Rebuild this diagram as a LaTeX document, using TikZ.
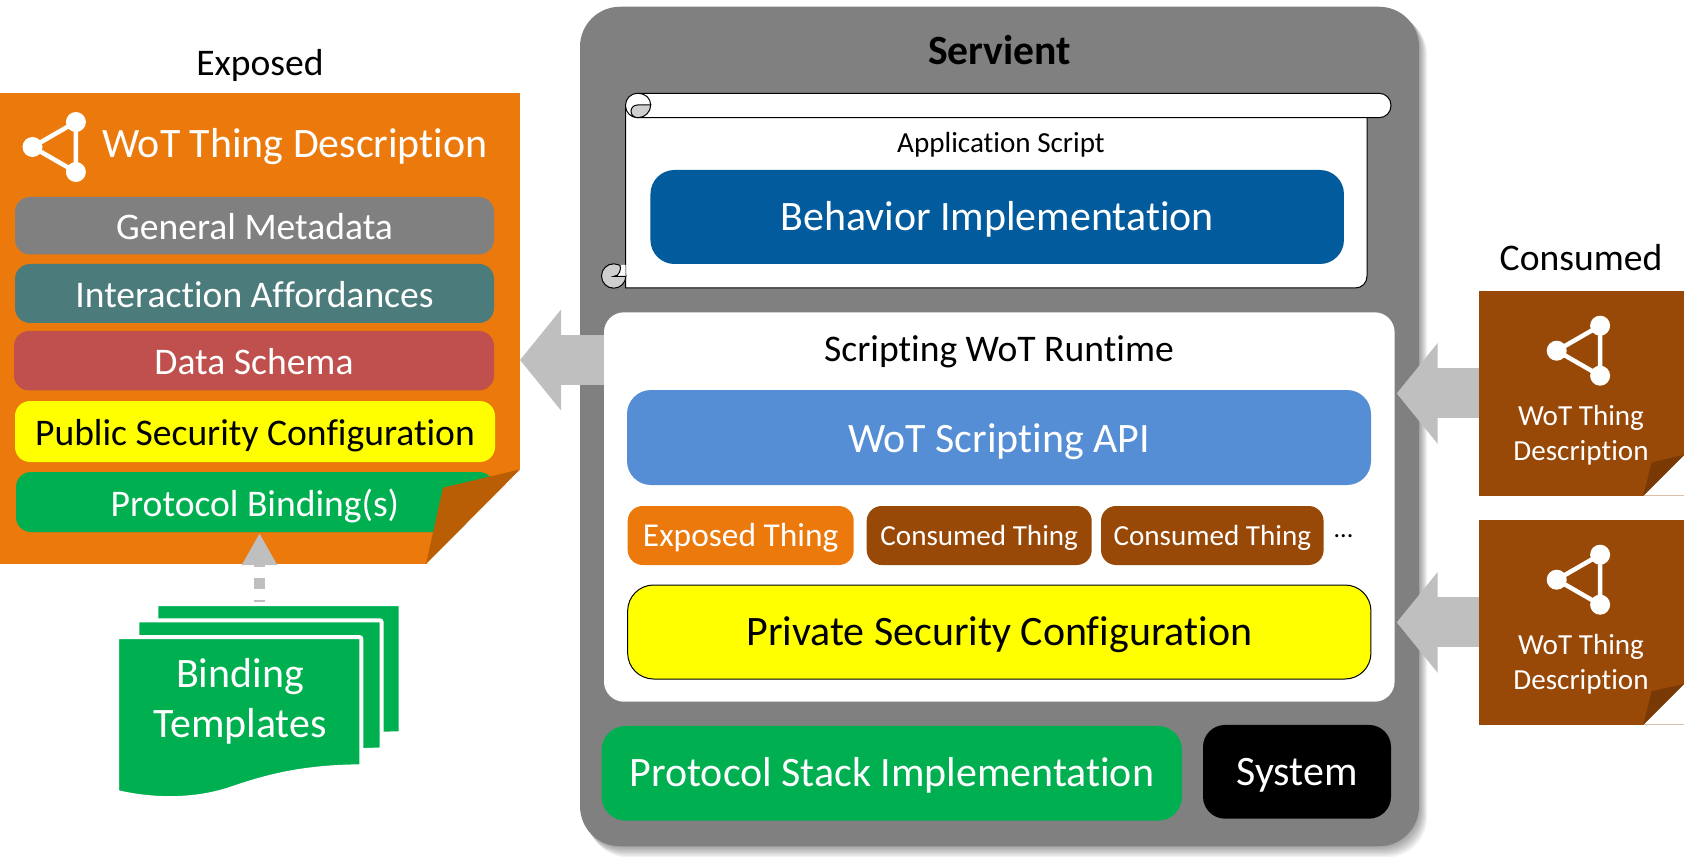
\documentclass[tikz,border=0pt]{standalone}
\usepackage{fontspec}
\setmainfont{Carlito}[Ligatures=NoCommon]
\usepackage{tikz}
\usetikzlibrary{positioning,arrows.meta,calc}
\definecolor{wotorange}{HTML}{EB790B}
\definecolor{foldorange}{HTML}{BA5E05}
\definecolor{wotbrown}{HTML}{984807}
\definecolor{foldbrown}{HTML}{793905}
\definecolor{wotgrey}{HTML}{808080}
\definecolor{wotteal}{HTML}{4B7B7B}
\definecolor{wotred}{HTML}{C0504D}
\definecolor{wotgreen}{HTML}{00B050}
\definecolor{wotblue}{HTML}{025B9C}
\definecolor{wotsky}{HTML}{558ED5}
\definecolor{wotyellow}{HTML}{FFFF00}
\definecolor{flowgrey}{HTML}{BFBFBF}
\definecolor{curlgrey}{HTML}{CFCFCF}
\tikzset{
  smalltxt/.style={font=\fontsize{29.1}{35.5}\selectfont, text height=19.7pt, text depth=0pt},
  midtxt/.style={font=\fontsize{37.6}{45}\selectfont, text height=28pt, text depth=0pt},
  bigtxt/.style={font=\fontsize{41.9}{50.5}\selectfont, text height=27pt, text depth=0pt},
  bar/.style={rectangle, rounded corners=15pt, inner sep=0pt, text=white},
  widebar/.style={bar, rounded corners=24pt},
  flow/.style={flowgrey, line width=50pt, -{Triangle[length=41pt,width=98.7pt]}},
  iconlink/.style={white, line width=4.5pt},
}
% the three-dot thing description mark, given by its left dot
\newcommand{\tdmark}[2]{
  \draw[iconlink] (#1,#2) -- (#1+43.4,#2-25) -- (#1+43.4,#2+25) -- cycle;
  \fill[white] (#1,#2) circle (10pt) (#1+43.4,#2-25) circle (10pt) (#1+43.4,#2+25) circle (10pt);
}
\begin{document}
\begin{tikzpicture}[x=1pt,y=-1pt]
  \useasboundingbox (0,0) rectangle (1686,863.3);

  % Servient with its soft shadow
  \foreach \s in {1,...,8}
    \fill[black, opacity=.05, rounded corners=40pt]
      ({580+\s},{7+\s}) rectangle ({1419+\s},{846+1.4*\s});
  \node[bar, rounded corners=40pt, fill=wotgrey, minimum width=839pt, minimum height=839.5pt]
    (servient) at (999.5,426.5) {};
  \node[bigtxt, font=\fontsize{41.6}{50}\bfseries] (servienttitle) at (999.5,51) {Servient};

  % Application script scroll
  \draw[fill=white, line width=1pt] (625.5,105) -- (625.5,288) -- (1355,288)
    .. controls (1362,288) and (1367,283) .. (1367,276) -- (1367,105) -- cycle;
  \draw[fill=curlgrey, line width=1pt] (613.7,276) circle (12.2pt);
  \fill[white] (620,265) .. controls (621.5,269) and (619.5,276.5) .. (613.5,276.5)
    -- (625.5,276.5) -- (625.5,265) -- cycle;
  \draw[line width=1pt] (620,265) .. controls (621.5,269) and (619.5,276.5) .. (613.5,276.5)
    -- (625.5,276.5);
  \draw[fill=white, line width=1pt, rounded corners=12pt] (625.5,93.3) rectangle (1391,117.7);
  \draw[fill=curlgrey, line width=1pt] (650.7,105) -- (637.5,105)
    .. controls (633.5,105) and (631,108) .. (631,111.3)
    .. controls (631,115) and (634,117.7) .. (638,117.7)
    .. controls (645,117.7) and (650.7,112) .. (650.7,105) -- cycle;
  \draw[line width=1pt] (638,93.3) .. controls (645,93.3) and (650.7,98) .. (650.7,105);
  \node[smalltxt] (script) at (1001,143) {Application Script};
  \node[widebar, bigtxt, fill=wotblue, minimum width=693.5pt, minimum height=94pt]
    (behavior) at (997.2,217) {Behavior Implementation};

  % Scripting runtime
  \node[bar, rounded corners=20pt, fill=white, minimum width=790.6pt, minimum height=389.4pt]
    (runtime) at (999.3,507) {};
  \node[midtxt] (runtimetitle) at (999,347.5) {Scripting WoT Runtime};
  \node[widebar, bigtxt, text height=30pt, fill=wotsky, minimum width=744pt, minimum height=95pt]
    (api) at (999,437.5) {WoT Scripting API};
  \node[bar, font=\fontsize{33.4}{40}\selectfont, text height=21.3pt, text depth=0pt, fill=wotorange,
    minimum width=226pt, minimum height=59pt] (exposedthing) at (740.7,535.5) {Exposed Thing};
  \node[bar, smalltxt, fill=wotbrown, minimum width=225pt, minimum height=59pt]
    (consumedone) at (979.2,535.5) {Consumed Thing};
  \node[bar, smalltxt, fill=wotbrown, minimum width=222.6pt, minimum height=59pt]
    (consumedtwo) at (1212.3,535.5) {Consumed Thing};
  \node[font=\fontsize{26}{30}\selectfont, inner sep=0pt] (moredots) at (1343.5,536.5) {...};
  \node[widebar, bigtxt, rounded corners=26pt, text=black, fill=wotyellow, draw=black, line width=1pt,
    minimum width=743.3pt, minimum height=94pt] (private) at (999.3,632) {Private Security Configuration};

  % Bottom of the servient
  \node[widebar, bigtxt, fill=wotgreen, minimum width=580.3pt, minimum height=94.7pt]
    (stack) at (891.8,773.3) {Protocol Stack Implementation};
  \node[widebar, bigtxt, rounded corners=22pt, fill=black, minimum width=188pt, minimum height=93.7pt]
    (system) at (1297,771.8) {System};

  % Exposed description
  \node[midtxt] (exposedlabel) at (260,62) {Exposed};
  \node[rectangle, inner sep=0pt, fill=wotorange, minimum width=520pt, minimum height=471.3pt]
    (exposed) at (260,328.3) {};
  \tdmark{32.5}{147}
  \node[bigtxt, text=white] (exposedtitle) at (295,144) {WoT Thing Description};
  \node[bar, midtxt, fill=wotgrey, minimum width=479pt, minimum height=57.5pt]
    (metadata) at (254.5,225.7) {General Metadata};
  \node[bar, midtxt, fill=wotteal, minimum width=479pt, minimum height=59pt]
    (affordances) at (254.5,293.5) {Interaction Affordances};
  \node[bar, midtxt, fill=wotred, minimum width=480pt, minimum height=59.5pt]
    (schema) at (254,360.7) {Data Schema};
  \node[bar, midtxt, text=black, fill=wotyellow, minimum width=480pt, minimum height=61pt]
    (public) at (255,431.5) {Public Security Configuration};
  \node[bar, midtxt, fill=wotgreen, minimum width=478pt, minimum height=60pt]
    (binding) at (255,502) {Protocol Binding(s)};
  \fill[white] (520,469.4) -- (520,564) -- (426,564) -- cycle;
  \fill[foldorange] (520,469.4) -- (443,487.7) -- (426,564) -- cycle;

  % Consumed descriptions
  \node[midtxt] (consumedlabel) at (1581,256.5) {Consumed};
  \foreach \name/\yy in {docone/393.4, doctwo/622.4} {
    \node[rectangle, inner sep=0pt, fill=wotbrown, minimum width=205pt, minimum height=204.6pt]
      (\name) at (1581.5,\yy) {};
    \fill[white] (1684,\yy+61.6) -- (1684,\yy+102.3) -- (1643.3,\yy+102.3) -- cycle;
    \fill[foldbrown] (1684,\yy+61.6) -- (1651.7,\yy+68.9) -- (1643.3,\yy+102.3) -- cycle;
    \tdmark{1556.7}{\yy-42.7}
    \node[text=white, align=center, inner sep=0pt, font=\fontsize{29.1}{35.5}\selectfont]
      (\name text) at (1581,\yy+42) {WoT Thing\\Description};
  }

  % Binding templates
  \foreach \dx/\dy in {39.3/-33, 20.3/-16.7, 0/0}
    \filldraw[shift={(\dx,\dy)}, fill=wotgreen, draw=white, line width=4pt, rounded corners=2pt]
      (117,637) -- (361.3,637) -- (361.3,766.3) [rounded corners=0pt]
      .. controls (300,767) and (265,777) .. (230,789)
      .. controls (200,799) and (160,802) .. (117,792) -- cycle;
  \node[text=white, align=center, inner sep=0pt, font=\fontsize{41.9}{50.5}\selectfont]
    (templates) at (240,701.5) {Binding\\Templates};

  % Flows
  \coordinate (exposedtip) at (520,360);
  \coordinate (onetip) at (1396.7,393.4);
  \coordinate (twotip) at (1396.7,622.4);
  \coordinate (bindingtip) at (259.5,533);
  \coordinate (templatesout) at (259.5,602);
  \draw[flow] (runtime.west |- exposedtip) -- (exposedtip);
  \draw[flow] (docone.west) -- (onetip);
  \draw[flow] (doctwo.west) -- (twotip);
  \draw[flowgrey, line width=11pt, dash pattern=on 11pt off 11pt, dash phase=9pt,
    -{Triangle[length=32pt,width=33pt]}] (templatesout) -- (bindingtip);
\end{tikzpicture}
\end{document}
